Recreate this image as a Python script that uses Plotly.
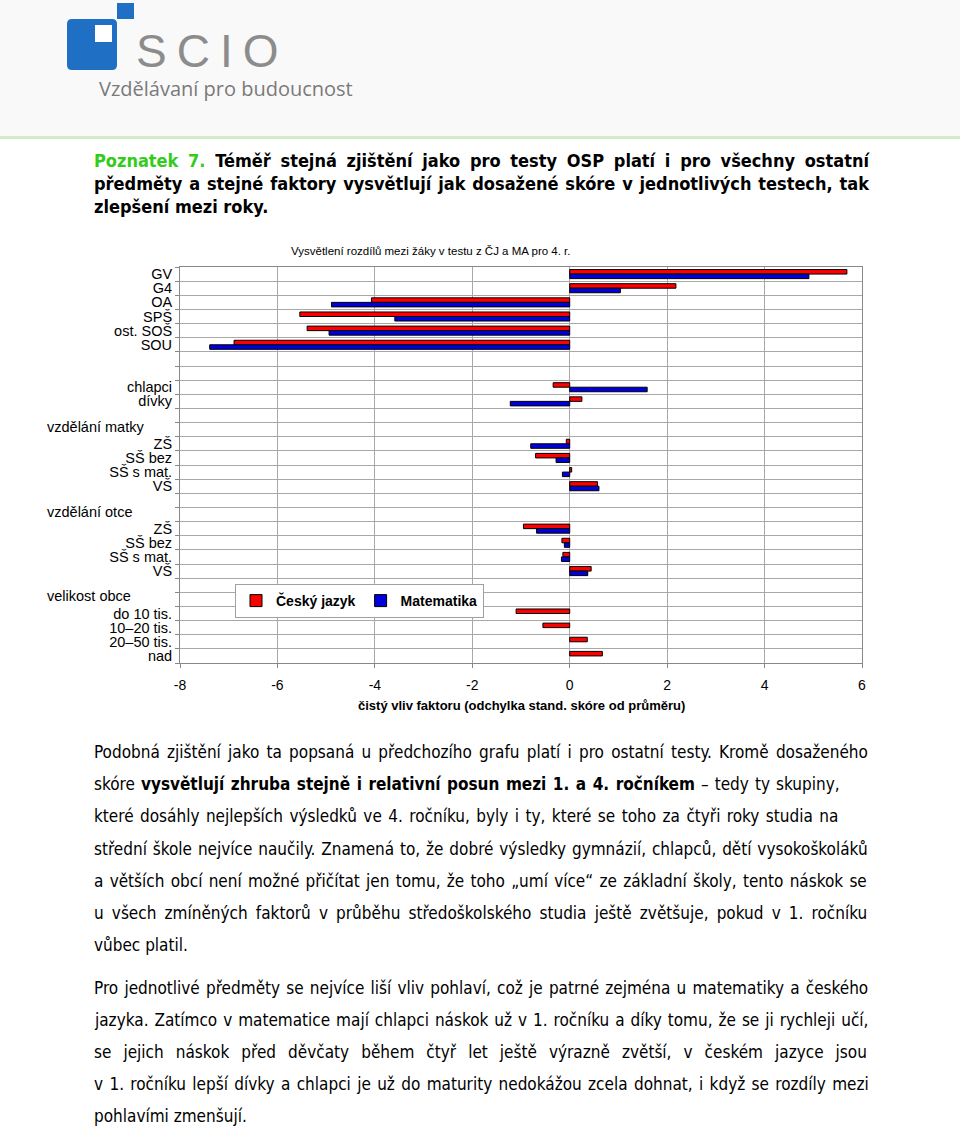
import plotly.graph_objects as go

W, H = 960, 1128

# ---------------- data ----------------
row_labels = ["GV", "G4", "OA", "SPŠ", "ost. SOŠ", "SOU", "", "",
              "chlapci", "dívky", "", "",
              "ZŠ", "SŠ bez", "SŠ s mat.", "VŠ", "", "",
              "ZŠ", "SŠ bez", "SŠ s mat.", "VŠ", "", "",
              "do 10 tis.", "10–20 tis.", "20–50 tis.", "nad"]
cesky = [5.69, 2.18, -4.07, -5.54, -5.39, -6.89, None, None,
         -0.34, 0.25, None, None,
         -0.07, -0.70, 0.04, 0.57, None, None,
         -0.95, -0.16, -0.14, 0.44, None, None,
         -1.10, -0.55, 0.36, 0.67]
matematika = [4.91, 1.04, -4.89, -3.59, -4.94, -7.39, None, None,
              1.59, -1.22, None, None,
              -0.80, -0.28, -0.15, 0.60, None, None,
              -0.68, -0.11, -0.17, 0.37, None, None,
              None, None, None, None]
group_rows = [11, 17, 23]
group_labels = ["vzdělání matky", "vzdělání otce", "velikost obce"]
x_ticks = [-8, -6, -4, -2, 0, 2, 4, 6]
series_names = ["Český jazyk", "Matematika"]

chart_title = "Vysvětlení rozdílů mezi žáky v testu z ČJ a MA pro 4. r."
x_title = "čistý vliv faktoru (odchylka stand. skóre od průměru)"

heading_lines = [
    '<span style="color:#33cc1a">Poznatek 7.</span> Téměř stejná zjištění jako pro testy OSP platí i pro všechny ostatní',
    "předměty a stejné faktory vysvětlují jak dosažené skóre v jednotlivých testech, tak",
    "zlepšení mezi roky.",
]
para1 = [
    "Podobná zjištění jako ta popsaná u předchozího grafu platí i pro ostatní testy. Kromě dosaženého",
    "skóre <b>vysvětlují zhruba stejně i relativní posun mezi 1. a 4. ročníkem</b> – tedy ty skupiny,",
    "které dosáhly nejlepších výsledků ve 4. ročníku, byly i ty, které se toho za čtyři roky studia na",
    "střední škole nejvíce naučily. Znamená to, že dobré výsledky gymnázií, chlapců, dětí vysokoškoláků",
    "a větších obcí není možné přičítat jen tomu, že toho „umí více“ ze základní školy, tento náskok se",
    "u všech zmíněných faktorů v průběhu středoškolského studia ještě zvětšuje, pokud v 1. ročníku",
    "vůbec platil.",
]
para2 = [
    "Pro jednotlivé předměty se nejvíce liší vliv pohlaví, což je patrné zejména u matematiky a českého",
    "jazyka. Zatímco v matematice mají chlapci náskok už v 1. ročníku a díky tomu, že se ji rychleji učí,",
    "se jejich náskok před děvčaty během čtyř let ještě výrazně zvětší, v českém jazyce jsou",
    "v 1. ročníku lepší dívky a chlapci je už do maturity nedokážou zcela dohnat, i když se rozdíly mezi",
    "pohlavími zmenšují.",
]

# word spacing (px) used to imitate the justified text of the page
heading_ws = [4.1, 1.2, 0]
para1_ws = [2.35, 1.2, 1.6, 1.0, 1.4, 3.3, 0]
para2_ws = [1.35, 1.1, 7.2, 1.5, 0]


def px(x):
    return x / W


def py(y):
    return 1 - y / H


def rounded_rect(x0, y0, x1, y1, r):
    return (f"M {px(x0 + r)} {py(y0)} L {px(x1 - r)} {py(y0)} "
            f"Q {px(x1)} {py(y0)} {px(x1)} {py(y0 + r)} L {px(x1)} {py(y1 - r)} "
            f"Q {px(x1)} {py(y1)} {px(x1 - r)} {py(y1)} L {px(x0 + r)} {py(y1)} "
            f"Q {px(x0)} {py(y1)} {px(x0)} {py(y1 - r)} L {px(x0)} {py(y0 + r)} "
            f"Q {px(x0)} {py(y0)} {px(x0 + r)} {py(y0)} Z")


rows = list(range(len(row_labels)))

fig = go.Figure()
fig.add_trace(go.Bar(y=rows, x=cesky, orientation="h", name=series_names[0],
                     marker=dict(color="#ff0000", line=dict(color="#000000", width=1))))
fig.add_trace(go.Bar(y=rows, x=matematika, orientation="h", name=series_names[1],
                     marker=dict(color="#0000dd", line=dict(color="#000000", width=1))))

ARIAL = "Liberation Sans, Arial, sans-serif"
TAHOMA = "DejaVu Sans Condensed, DejaVu Sans, sans-serif"

shapes = [
    dict(type="rect", xref="paper", yref="paper", x0=0, x1=1, y0=py(136), y1=1,
         fillcolor="#f9f9f9", line=dict(width=0), layer="below"),
    dict(type="rect", xref="paper", yref="paper", x0=0, x1=1, y0=py(139), y1=py(136),
         fillcolor="#d6eac8", line=dict(width=0), layer="below"),
    dict(type="path", xref="paper", yref="paper", path=rounded_rect(67, 19, 117, 70, 5),
         fillcolor="#1f6fc5", line=dict(width=0)),
    dict(type="rect", xref="paper", yref="paper", x0=px(95), x1=px(112), y0=py(42), y1=py(25),
         fillcolor="#ffffff", line=dict(width=0)),
    dict(type="rect", xref="paper", yref="paper", x0=px(117), x1=px(134), y0=py(19), y1=py(3),
         fillcolor="#1f6fc5", line=dict(width=0)),
]

annotations = [
    dict(text='<span style="letter-spacing:10px">SCIO</span>', x=px(134), y=py(51),
         xref="paper", yref="paper", xanchor="left",
         yanchor="middle", showarrow=False, font=dict(family=ARIAL, size=46, color="#8c8c8c")),
    dict(text="Vzdělávaní pro budoucnost", x=px(97), y=py(89), xref="paper", yref="paper",
         xanchor="left", yanchor="middle", showarrow=False,
         font=dict(family="Open Sans, sans-serif", size=20, color="#7a7a7a")),
    dict(text=chart_title, x=px(431), y=py(251), xref="paper", yref="paper", xanchor="center",
         yanchor="middle", showarrow=False, font=dict(family=ARIAL, size=11.5, color="#000000")),
    dict(text="<b>" + x_title + "</b>", x=px(521), y=py(705), xref="paper", yref="paper",
         xanchor="center", yanchor="middle", showarrow=False,
         font=dict(family=ARIAL, size=13, color="#000000")),
]
for r, lab in zip(group_rows, group_labels):
    annotations.append(dict(text=lab, x=px(45), y=r, xref="paper", yref="y", xanchor="left",
                            yanchor="middle", showarrow=False, yshift=3,
                            font=dict(family=ARIAL, size=14.5, color="#000000")))


def styled(line, ws):
    return f'<span style="word-spacing:{ws}px">{line}</span>'


for i, line in enumerate(heading_lines):
    annotations.append(dict(text=styled("<b>" + line + "</b>", heading_ws[i]), x=px(92),
                            y=py(161 + i * 22.5),
                            xref="paper", yref="paper", xanchor="left", yanchor="middle",
                            showarrow=False, font=dict(family=TAHOMA, size=18, color="#000000")))
for i, line in enumerate(para1):
    annotations.append(dict(text=styled(line, para1_ws[i]), x=px(92), y=py(752 + i * 32.2),
                            xref="paper", yref="paper",
                            xanchor="left", yanchor="middle", showarrow=False,
                            font=dict(family=TAHOMA, size=17, color="#000000")))
for i, line in enumerate(para2):
    annotations.append(dict(text=styled(line, para2_ws[i]), x=px(92), y=py(988 + i * 32.1),
                            xref="paper", yref="paper",
                            xanchor="left", yanchor="middle", showarrow=False,
                            font=dict(family=TAHOMA, size=17, color="#000000")))

fig.update_layout(
    width=W, height=H,
    margin=dict(l=0, r=0, t=0, b=0),
    paper_bgcolor="#ffffff", plot_bgcolor="#ffffff",
    barmode="group", bargap=0.36, bargroupgap=0,
    showlegend=True,
    legend=dict(orientation="h", x=px(235), y=py(584), xanchor="left", yanchor="top",
                bgcolor="#ffffff", bordercolor="#a0a0a0", borderwidth=1,
                font=dict(family=ARIAL, size=14, color="#000000", weight="bold"),
                itemwidth=30, tracegroupgap=0),
    xaxis=dict(domain=[px(180), px(862)], range=[-8, 6], tickmode="array", tickvals=x_ticks,
               ticktext=[str(v) for v in x_ticks],
               showgrid=True, gridcolor="#a8a8a8", gridwidth=1, zeroline=False,
               showline=True, linecolor="#888888", linewidth=1, mirror=True,
               ticks="outside", ticklen=4, tickcolor="#888888", ticklabelstandoff=5,
               tickfont=dict(family=ARIAL, size=14, color="#000000"), automargin=False),
    yaxis=dict(domain=[py(663), py(267)], range=[len(row_labels) - 0.5, -0.5],
               tickmode="array", tickvals=rows, ticktext=row_labels,
               showgrid=False, zeroline=False,
               showline=True, linecolor="#888888", linewidth=1, mirror=True,
               ticks="", ticklabelstandoff=4,
               tickfont=dict(family=ARIAL, size=14.5, color="#000000"), automargin=False,
               minor=dict(tickmode="array", tickvals=[r - 0.5 for r in rows] + [len(rows) - 0.5],
                          showgrid=True, gridcolor="#a8a8a8", gridwidth=1,
                          ticks="outside", ticklen=4, tickcolor="#888888")),
    shapes=shapes,
    annotations=annotations,
)

fig.write_html("out.html")
